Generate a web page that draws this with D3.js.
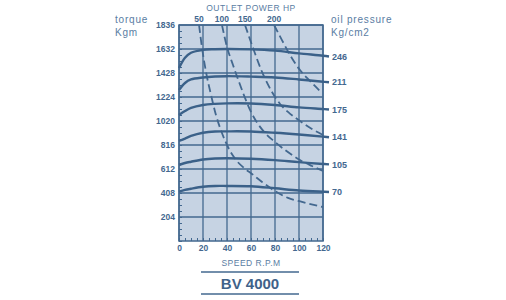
<!DOCTYPE html>
<html>
<head>
<meta charset="utf-8">
<script src="https://cdn.jsdelivr.net/npm/d3@7.9.0/dist/d3.min.js"></script>
<style>
  body { margin: 0; background: #fff; }
  svg { display: block; font-family: "Liberation Sans", Arial, sans-serif; }
</style>
</head>
<body>
<div id="chart"></div>
<script>
// speed axis (R.P.M) and torque axis (Kgm)
const speedTicks = [0, 20, 40, 60, 80, 100, 120];
const torqueTicks = [204, 408, 612, 816, 1020, 1224, 1428, 1632, 1836];

// torque curves, one per oil pressure (Kg/cm2)
const speed = [0, 5, 10, 20, 30, 40, 60, 80, 100, 120, 125];
const pressures = ["246", "211", "175", "141", "105", "70"];
const torque246 = [1470, 1558, 1600, 1625, 1630, 1632, 1629, 1618, 1595, 1575, 1568];
const torque211 = [1283, 1343, 1373, 1390, 1398, 1401, 1397, 1390, 1373, 1354, 1349];
const torque175 = [1071, 1105, 1131, 1156, 1166, 1170, 1169, 1156, 1136, 1122, 1118];
const torque141 = [850, 871, 893, 920, 931, 932, 931, 920, 905, 887, 882];
const torque105 = [646, 663, 674, 693, 701, 703, 699, 687, 670, 655, 651];
const torque70 = [419, 434, 444, 461, 468, 468, 465, 448, 429, 419, 417];

// constant power curves (HP), read as [speed, torque]
const powerLabels = ["50", "100", "150", "200"];
const hp50 = [[16.7, 1836], [19.2, 1641], [22.5, 1437], [26.7, 1241], [30.8, 1071], [35.8, 918],
  [40.8, 799], [47.5, 689], [54.2, 621], [60.8, 570], [69.2, 502], [80, 425], [90.8, 366],
  [102.5, 332], [120, 289]];
const hp100 = [[35.8, 1836], [40, 1649], [45, 1496], [50, 1352], [55, 1216], [60, 1097],
  [65.8, 995], [72.5, 910], [80, 842], [88.3, 774], [100.8, 689], [110.8, 638], [120, 595]];
const hp150 = [[55, 1836], [61.7, 1641], [69.2, 1437], [77.5, 1267], [84.2, 1165],
  [90.8, 1097], [100.8, 1020], [110.8, 952], [120, 901]];
const hp200 = [[79.2, 1836], [85.8, 1708], [92.5, 1581], [100.8, 1453], [109.2, 1360], [117.5, 1275]];

const width = 506, height = 300;
const ink = "#43688f";
const textCol = "#5a7da3";

const svg = d3.select("#chart").append("svg")
  .attr("width", width)
  .attr("height", height);

const x = d3.scaleLinear().domain([0, 120]).range([179, 323]);
const y = d3.scaleLinear().domain([0, 1836]).range([241, 25]);

// plot background
svg.append("rect")
  .attr("x", x(0)).attr("y", y(1836))
  .attr("width", x(120) - x(0)).attr("height", y(0) - y(1836))
  .attr("fill", "#c6d3e3");

// grid
svg.append("g")
  .selectAll("line")
  .data(speedTicks)
  .join("line")
  .attr("x1", d => x(d)).attr("x2", d => x(d))
  .attr("y1", y(0)).attr("y2", y(1836))
  .attr("stroke", ink).attr("stroke-width", 1.3);

svg.append("g")
  .selectAll("line")
  .data(torqueTicks)
  .join("line")
  .attr("x1", x(0)).attr("x2", x(120))
  .attr("y1", d => y(d)).attr("y2", d => y(d))
  .attr("stroke", ink).attr("stroke-width", 1.3);

// frame
svg.append("rect")
  .attr("x", x(0)).attr("y", y(1836))
  .attr("width", x(120) - x(0)).attr("height", y(0) - y(1836))
  .attr("fill", "none").attr("stroke", ink).attr("stroke-width", 1.5);

// minor ticks
svg.append("g")
  .attr("transform", `translate(${x(0)},0)`)
  .call(d3.axisRight(y).tickValues(d3.range(0, 1836, 51)).tickSize(3).tickFormat(""))
  .call(g => g.select(".domain").remove())
  .call(g => g.selectAll("line").attr("stroke", ink));

svg.append("g")
  .attr("transform", `translate(0,${y(0)})`)
  .call(d3.axisTop(x).tickValues(d3.range(0, 121, 5)).tickSize(3).tickFormat(""))
  .call(g => g.select(".domain").remove())
  .call(g => g.selectAll("line").attr("stroke", ink));

// axis labels
const leftAxis = svg.append("g")
  .attr("transform", `translate(${x(0)},0)`)
  .call(d3.axisLeft(y).tickValues(torqueTicks).tickFormat(d3.format("d")).tickSize(0).tickPadding(4));
leftAxis.select(".domain").remove();

const bottomAxis = svg.append("g")
  .attr("transform", `translate(0,${y(0)})`)
  .call(d3.axisBottom(x).tickValues(speedTicks).tickFormat(d3.format("d")).tickSize(0).tickPadding(4));
bottomAxis.select(".domain").remove();

svg.selectAll(".tick text")
  .attr("fill", ink)
  .attr("font-size", 8.5)
  .attr("font-weight", "bold")
  .attr("font-family", "'Liberation Sans', Arial, sans-serif");

// power curves
const dashLine = d3.line()
  .x(d => x(d[0])).y(d => y(d[1]))
  .curve(d3.curveMonotoneX);
const powerCurves = [hp50, hp100, hp150, hp200];

svg.append("g")
  .selectAll("path")
  .data(powerCurves)
  .join("path")
  .attr("d", dashLine)
  .attr("fill", "none")
  .attr("stroke", ink)
  .attr("stroke-width", 1.8)
  .attr("stroke-dasharray", "8,4");

svg.append("g")
  .selectAll("text")
  .data(powerCurves)
  .join("text")
  .attr("x", d => x(d[0][0]))
  .attr("y", y(1836) - 3)
  .attr("text-anchor", "middle")
  .attr("font-size", 8.5)
  .attr("font-weight", "bold")
  .attr("fill", ink)
  .text((d, i) => powerLabels[i]);

// torque curves
const torqueSeries = [torque246, torque211, torque175, torque141, torque105, torque70];
const solidLine = d3.line()
  .x((d, i) => x(speed[i])).y(d => y(d))
  .curve(d3.curveCatmullRom.alpha(0.5));

svg.append("g")
  .selectAll("path")
  .data(torqueSeries)
  .join("path")
  .attr("d", solidLine)
  .attr("fill", "none")
  .attr("stroke", "#3b6189")
  .attr("stroke-width", 2.4);

svg.append("g")
  .selectAll("text")
  .data(torqueSeries)
  .join("text")
  .attr("x", x(speed[speed.length - 1]) + 3)
  .attr("y", d => y(d[d.length - 1]))
  .attr("dy", "0.35em")
  .attr("font-size", 9)
  .attr("font-weight", "bold")
  .attr("fill", ink)
  .text((d, i) => pressures[i]);

// titles
const midX = (x(0) + x(120)) / 2;
svg.append("text")
  .attr("x", midX).attr("y", 11)
  .attr("text-anchor", "middle")
  .attr("font-size", 8.5).attr("letter-spacing", 0.5)
  .attr("fill", textCol)
  .text("OUTLET POWER HP");

svg.append("text").attr("x", 115).attr("y", 23)
  .attr("font-size", 10).attr("letter-spacing", 0.8).attr("fill", textCol).text("torque");
svg.append("text").attr("x", 115).attr("y", 36)
  .attr("font-size", 10).attr("letter-spacing", 0.8).attr("fill", textCol).text("Kgm");
svg.append("text").attr("x", 331).attr("y", 23)
  .attr("font-size", 10).attr("letter-spacing", 0.8).attr("fill", textCol).text("oil pressure");
svg.append("text").attr("x", 331).attr("y", 36)
  .attr("font-size", 10).attr("letter-spacing", 0.8).attr("fill", textCol).text("Kg/cm2");

svg.append("text")
  .attr("x", midX).attr("y", 266)
  .attr("text-anchor", "middle")
  .attr("font-size", 8.5).attr("letter-spacing", 0.5)
  .attr("fill", textCol)
  .text("SPEED R.P.M");

svg.append("line")
  .attr("x1", 201).attr("x2", 299).attr("y1", 272).attr("y2", 272)
  .attr("stroke", ink).attr("stroke-width", 1.5);
svg.append("text")
  .attr("x", 250).attr("y", 289)
  .attr("text-anchor", "middle")
  .attr("font-size", 15).attr("font-weight", "bold")
  .attr("fill", "#3f6289")
  .text("BV 4000");
svg.append("line")
  .attr("x1", 201).attr("x2", 299).attr("y1", 294).attr("y2", 294)
  .attr("stroke", ink).attr("stroke-width", 1.5);
</script>
</body>
</html>
